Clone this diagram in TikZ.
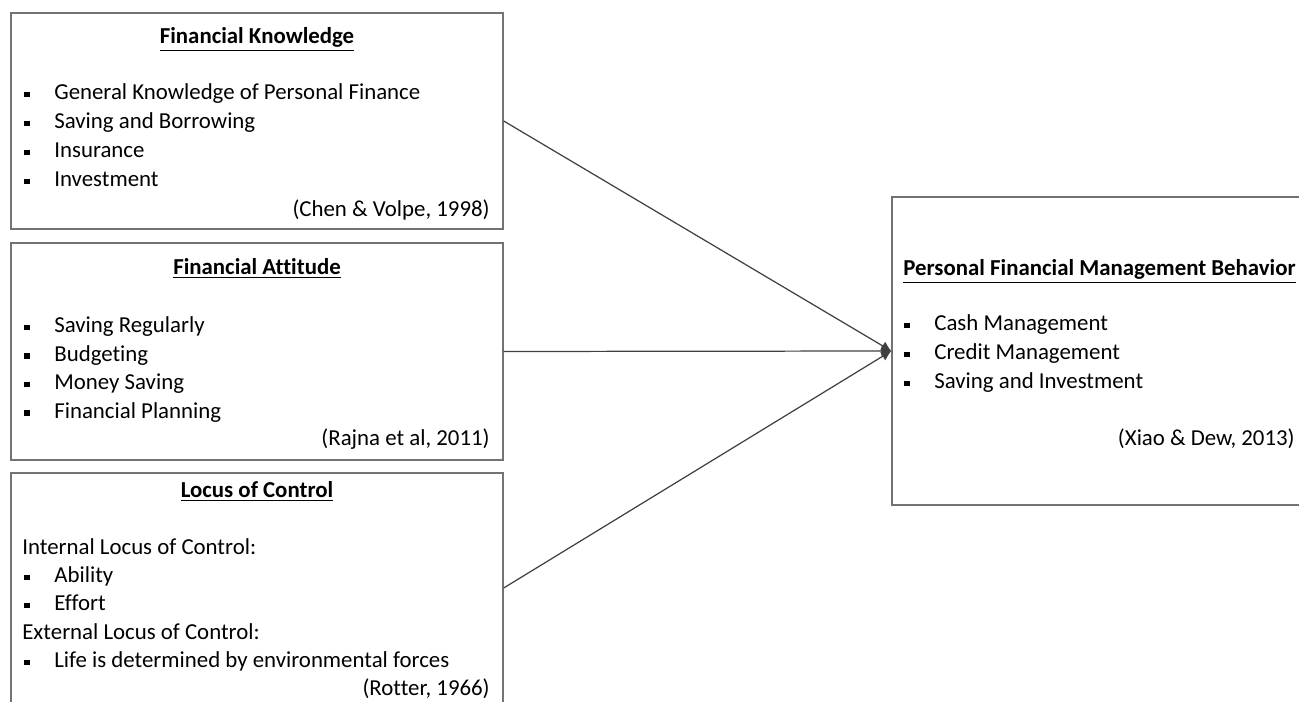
\documentclass[tikz,border=0pt]{standalone}
\usepackage{fontspec}
\setmainfont[Ligatures=NoCommon]{Carlito}
\usetikzlibrary{arrows.meta,fit}
\newcommand{\sqbul}{\makebox[0.6cm][l]{\rule[1.5pt]{3pt}{3pt}}}
\tikzset{
  box/.style={draw=black!55, line width=0.8pt, inner sep=0pt},
  txt/.style={inner sep=0pt, anchor=west, yshift=-0.05cm, text height=9pt, text depth=3pt, font=\fontsize{13}{15}\selectfont},
  head/.style={inner sep=0pt, yshift=-0.05cm, text height=9pt, text depth=3pt, font=\fontsize{13}{15}\selectfont\bfseries},
  cite/.style={inner sep=0pt, anchor=east, yshift=-0.05cm, text height=9pt, text depth=3pt, font=\fontsize{13}{15}\selectfont},
  link/.style={draw=black!75, line width=0.7pt, -{Latex[length=0.2cm,width=0.2cm]}}
}
\begin{document}
\begin{tikzpicture}[x=0.02cm, y=-0.02cm]
  \useasboundingbox (0,0) rectangle (1299,702);
  \clip (0,0) rectangle (1299,702);

  \begin{scope}[every node/.style={box}]
    \node[fit={(11,13) (503,229)}] (fk) {};
    \node[fit={(11,243) (503,460)}] (fa) {};
    \node[fit={(11,473) (503,703)}] (loc) {};
    \node[fit={(892,197) (1310,505)}] (pfmb) {};
  \end{scope}

  \node[head] (fk-h) at (257,36) {\underline{Financial Knowledge}};
  \foreach \t [count=\i from 0] in {General Knowledge of Personal Finance, Saving and Borrowing, Insurance, Investment}
    \node[txt] (fk-\i) at (24,{92+29*\i}) {\sqbul\t};
  \node[cite] (fk-c) at (490,209) {(Chen \& Volpe, 1998)};

  \node[head] (fa-h) at (257,267) {\underline{Financial Attitude}};
  \foreach \t [count=\i from 0] in {Saving Regularly, Budgeting, Money Saving, Financial Planning}
    \node[txt] (fa-\i) at (24,{325+28.5*\i}) {\sqbul\t};
  \node[cite] (fa-c) at (490,438) {(Rajna et al, 2011)};

  \node[head] (loc-h) at (257,490) {\underline{Locus of Control}};
  \node[txt] (loc-in) at (22,547) {Internal Locus of Control:};
  \node[txt] (loc-1) at (24,575) {\sqbul Ability};
  \node[txt] (loc-2) at (24,603) {\sqbul Effort};
  \node[txt] (loc-ex) at (22,632) {External Locus of Control:};
  \node[txt] (loc-3) at (24,660) {\sqbul Life is determined by environmental forces};
  \node[cite] (loc-c) at (490,688) {(Rotter, 1966)};

  \node[head, anchor=west] (pfmb-h) at (903,268) {\underline{Personal Financial Management Behavior}};
  \foreach \t [count=\i from 0] in {Cash Management, Credit Management, Saving and Investment}
    \node[txt] (pfmb-\i) at (904,{323+29*\i}) {\sqbul\t};
  \node[cite] (pfmb-c) at (1295,438) {(Xiao \& Dew, 2013)};

  \path[link] (fk.east) -- (pfmb.west);
  \path[link] (fa.east) -- (pfmb.west);
  \path[link] (loc.east) -- (pfmb.west);
\end{tikzpicture}
\end{document}
